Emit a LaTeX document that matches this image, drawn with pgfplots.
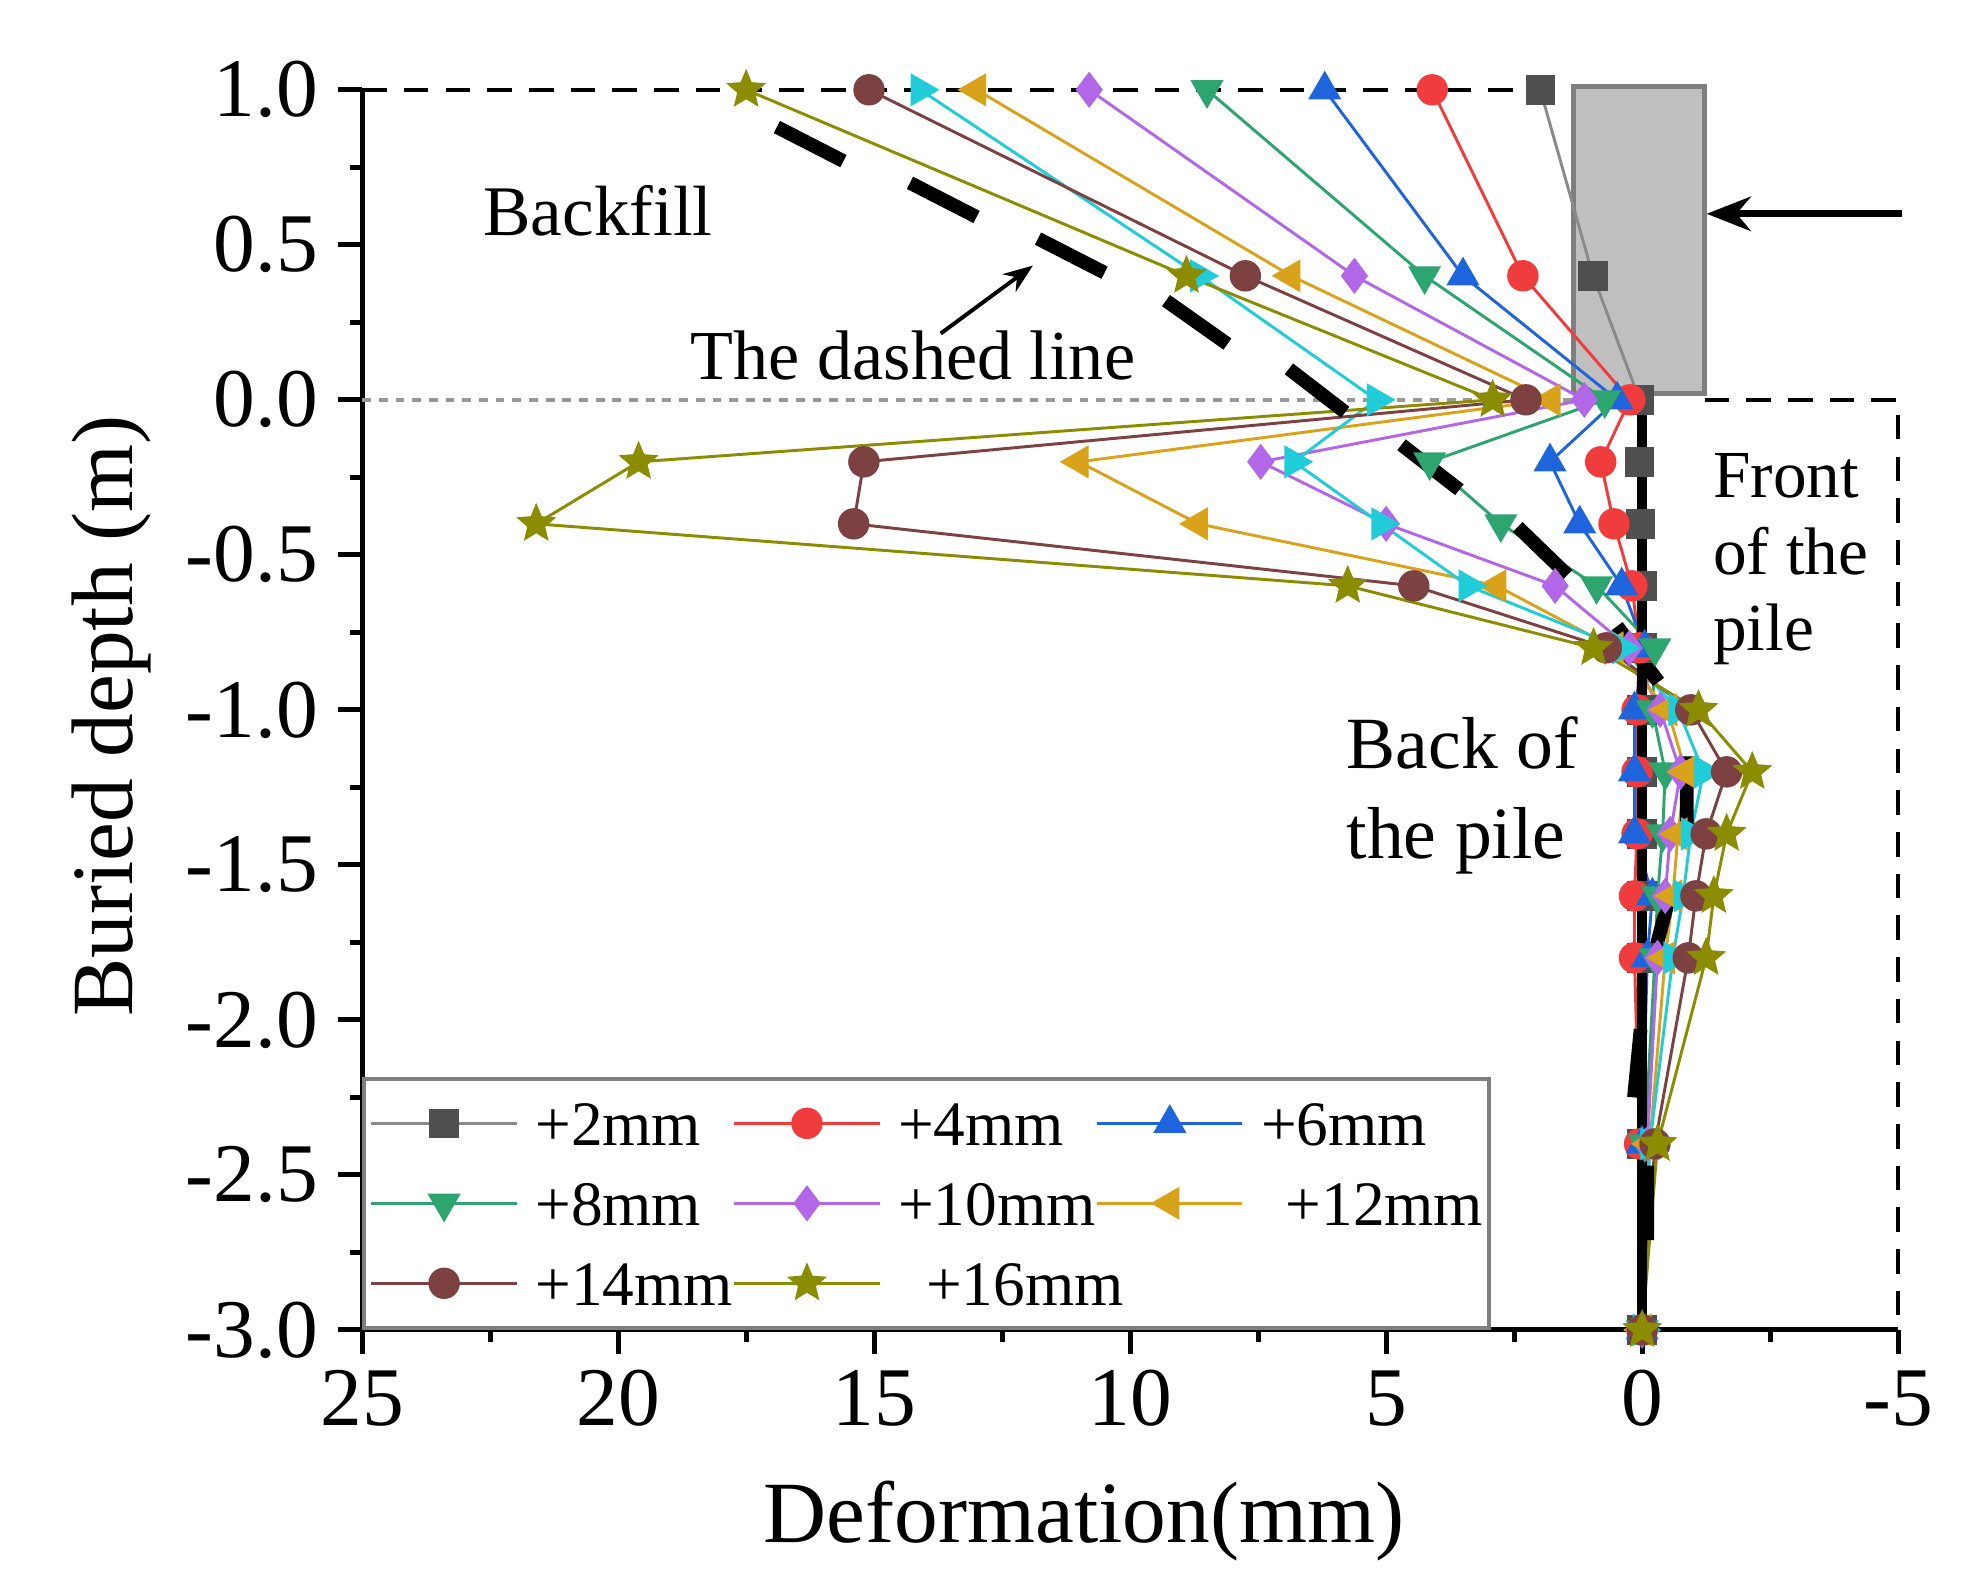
\documentclass[border=0pt]{standalone}
\usepackage{fontspec}
\setmainfont{Liberation Serif}
\usepackage{pgfplots}
\usepackage{pgfplotstable}
\pgfplotsset{compat=1.18}
\usetikzlibrary{arrows.meta}

\pgfdeclareplotmark{fstar}{%
  \pgfpathmoveto{\pgfpointpolar{90}{\pgfplotmarksize}}%
  \pgfpathlineto{\pgfpointpolar{126}{0.45\pgfplotmarksize}}%
  \pgfpathlineto{\pgfpointpolar{162}{\pgfplotmarksize}}%
  \pgfpathlineto{\pgfpointpolar{198}{0.45\pgfplotmarksize}}%
  \pgfpathlineto{\pgfpointpolar{234}{\pgfplotmarksize}}%
  \pgfpathlineto{\pgfpointpolar{270}{0.45\pgfplotmarksize}}%
  \pgfpathlineto{\pgfpointpolar{306}{\pgfplotmarksize}}%
  \pgfpathlineto{\pgfpointpolar{342}{0.45\pgfplotmarksize}}%
  \pgfpathlineto{\pgfpointpolar{18}{\pgfplotmarksize}}%
  \pgfpathlineto{\pgfpointpolar{54}{0.45\pgfplotmarksize}}%
  \pgfpathclose
  \pgfusepathqfillstroke
}

\definecolor{cgray}{HTML}{4F4F4F}
\definecolor{cgrayl}{HTML}{8A8A8A}
\definecolor{cred}{HTML}{F03C3C}
\definecolor{cblue}{HTML}{1E64DC}
\definecolor{cgreen}{HTML}{2CA56E}
\definecolor{cpurple}{HTML}{B266E8}
\definecolor{corange}{HTML}{D9A21B}
\definecolor{ccyan}{HTML}{20CCD8}
\definecolor{cbrown}{HTML}{7D4141}
\definecolor{colive}{HTML}{8C8C00}
\definecolor{rectfill}{HTML}{C0C0C0}
\definecolor{rectdraw}{HTML}{7F7F7F}

% depth (m) and deformation (mm) of each series
\pgfplotstableread{
y     s2    s4    s6    s8    s10   s12   sc    s14   s16
1.0   1.99  4.10  6.20  8.50  10.80 13.00 14.10 15.10 17.50
0.4   0.96  2.33  3.50  4.25  5.62  6.86  8.64  7.75  8.90
0.0   0.05  0.24  0.49  0.73  1.13  1.78  5.19  2.27  2.92
-0.2  0.05  0.81  1.80  4.15  7.45  11.00 6.80  15.20 19.60
-0.4  0.03  0.55  1.22  2.76  5.00  8.67  5.10  15.40 21.60
-0.6  0.00  0.20  0.40  0.89  1.70  2.84  3.40  4.46  5.75
-0.8  0.00  0.05  -0.05 -0.25 0.25  0.55  0.40  0.70  0.95
-1.0  0.00  0.10  0.15  -0.20 -0.35 -0.50 -0.70 -0.95 -1.10
-1.2  0.00  0.10  0.15  -0.45 -0.75 -0.85 -1.20 -1.65 -2.15
-1.4  0.00  0.10  0.15  -0.40 -0.55 -0.70 -0.95 -1.25 -1.65
-1.6  0.00  0.15  -0.20 -0.30 -0.45 -0.60 -0.80 -1.05 -1.40
-1.8  0.00  0.15  -0.10 -0.25 -0.30 -0.45 -0.60 -0.90 -1.25
-2.4  0.00  0.05  0.00  -0.05 -0.10 -0.15 -0.15 -0.25 -0.30
-3.0  0.00  0.00  0.00  0.00  0.00  0.00  0.00  0.00  0.00
}\data

\begin{document}
\begin{tikzpicture}
\path[use as bounding box] (-73.8pt,-50.3pt) rectangle (326.2pt,271pt);
\begin{axis}[
  at={(0,0)}, anchor=south west,
  scale only axis, width=313pt, height=252.7pt,
  x dir=reverse,
  xmin=-5, xmax=25, ymin=-3, ymax=1,
  clip=false,
  axis x line*=bottom, axis y line*=left,
  axis line style={line width=1pt, black},
  tick align=outside,
  major tick length=4.9pt, minor tick length=2.4pt,
  every tick/.style={black, line width=1pt},
  xtick={-5,0,5,10,15,20,25},
  ytick={-3,-2.5,-2,-1.5,-1,-0.5,0,0.5,1},
  minor x tick num=1, minor y tick num=1,
  /pgf/number format/assume math mode=true,
  ticklabel style={font=\fontsize{17}{20}\selectfont},
  xticklabel style={anchor=base, inner sep=0pt, yshift=-14.5pt, /pgf/number format/fixed},
  yticklabel style={anchor=east, inner sep=0pt, xshift=-3.9pt, /pgf/number format/.cd, fixed, fixed zerofill, precision=1},
  xlabel={Deformation(mm)},
  xlabel style={at={(axis description cs:0.470,-0.1717)}, anchor=base, inner sep=0pt, font=\fontsize{17.8}{20}\selectfont},
  ylabel={Buried depth (m)},
  ylabel style={at={(axis description cs:-0.1492,0.495)}, anchor=base, inner sep=0pt, font=\fontsize{17.8}{20}\selectfont},
  legend columns=3,
  legend cell align=left,
  legend image code/.code={\draw[mark repeat=2,mark phase=2] plot coordinates {(0pt,0pt) (14.8pt,0pt) (29.6pt,0pt)};},
  legend style={at={(0,0)}, anchor=south west, draw=rectdraw, line width=0.8pt,
    font=\fontsize{12.9}{15}\selectfont,
    inner xsep=1.2pt, inner ysep=4.5pt,
    nodes={inner xsep=0pt, inner ysep=0pt, text height=9.2pt, text depth=0pt},
    cells={anchor=west},
    column sep=0pt, row sep=7.1pt},
  every axis plot/.append style={line width=0.6pt},
]
% pile cap rectangle
\addplot[forget plot, fill=rectfill, draw=rectdraw, line width=1pt] coordinates {(1.34,0.02) (-1.22,0.02) (-1.22,1.01) (1.34,1.01) (1.34,0.02)};
% reference lines
\addplot[forget plot, black, line width=0.8pt, dash pattern=on 5pt off 3.5pt] coordinates {(25,1) (1.5,1)};
\addplot[forget plot, black, line width=0.8pt, dash pattern=on 5pt off 3.5pt] coordinates {(-1.22,0) (-5,0) (-5,-3)};
\addplot[forget plot, gray!80, line width=0.8pt, dash pattern=on 1.8pt off 1.6pt] coordinates {(25,0) (1.34,0)};

\addplot[cgrayl, mark=square*, mark size=2.7pt, mark options={fill=cgray, draw=cgray}] table[x=s2, y=y] {\data};
\addlegendentry{\hspace{3.5pt}+2mm\hspace{2.1pt}}
\addplot[cred, mark=*, mark size=2.9pt, mark options={fill=cred, draw=cred}] table[x=s4, y=y] {\data};
\addlegendentry{\hspace{3.5pt}+4mm\hspace{2.1pt}}
\addplot[cblue, mark=triangle*, mark size=3.3pt, mark options={fill=cblue, draw=cblue}] table[x=s6, y=y] {\data};
\addlegendentry{\hspace{3.5pt}+6mm\hspace{2.1pt}}
\addplot[cgreen, mark=triangle*, mark size=3.3pt, mark options={fill=cgreen, draw=cgreen, rotate=180}] table[x=s8, y=y] {\data};
\addlegendentry{\hspace{3.5pt}+8mm\hspace{2.1pt}}
\addplot[cpurple, mark=diamond*, mark size=3.2pt, mark options={fill=cpurple, draw=cpurple}] table[x=s10, y=y] {\data};
\addlegendentry{\hspace{3.5pt}+10mm\hspace{2.1pt}}
\addplot[corange, mark=triangle*, mark size=3.3pt, mark options={fill=corange, draw=corange, rotate=90}] table[x=s12, y=y] {\data};
\addlegendentry{\hspace{8.5pt}+12mm\hspace{2.1pt}}
\addplot[forget plot, ccyan, mark=triangle*, mark size=3.3pt, mark options={fill=ccyan, draw=ccyan, rotate=-90}] table[x=sc, y=y] {\data};
\addplot[cbrown, mark=*, mark size=2.9pt, mark options={fill=cbrown, draw=cbrown}] table[x=s14, y=y] {\data};
\addlegendentry{\hspace{3.5pt}+14mm\hspace{2.1pt}}
\addplot[colive, mark=fstar, mark size=3.5pt, mark options={fill=colive, draw=colive}] table[x=s16, y=y] {\data};
\addlegendentry{\hspace{9.2pt}\rlap{+16mm}}

% pile
\addplot[forget plot, black, line width=2pt] coordinates {(0,0.02) (0,-3)};
% thick dashed envelope line (each dash a segment)
\addplot[forget plot, black, line width=2.8pt, unbounded coords=jump] coordinates {
 (16.9,0.88) (15.6,0.77) (nan,nan)
 (14.3,0.70) (13.0,0.59) (nan,nan)
 (11.8,0.52) (10.5,0.41) (nan,nan)
 (9.3,0.32) (8.1,0.18) (nan,nan)
 (6.9,0.10) (5.8,-0.04) (nan,nan)
 (4.7,-0.145) (3.57,-0.29) (nan,nan)
 (2.43,-0.41) (1.46,-0.565) (nan,nan)
 (0.49,-0.73) (-0.32,-0.91) (nan,nan)
 (-0.87,-1.15) (-0.87,-1.37) (nan,nan)
 (-0.55,-1.59) (-0.22,-1.80) (nan,nan)
 (0.03,-2.03) (0.16,-2.25) (nan,nan)
 (-0.1,-2.47) (-0.1,-2.71)
};
% load arrow
\addplot[forget plot, black, line width=1.4pt, -{Stealth[length=9pt,width=7pt]}] coordinates {(-5.08,0.6) (-1.26,0.6)};
% annotation arrow
\addplot[forget plot, black, line width=0.8pt, -{Stealth[length=6pt,width=4.5pt]}] coordinates {(13.7,0.214) (11.9,0.433)};

\node[anchor=base west, inner sep=0pt, font=\fontsize{14.5}{17}\selectfont] at (axis cs:22.65,0.53) {Backfill};
\node[anchor=base west, inner sep=0pt, font=\fontsize{14.3}{17}\selectfont] at (axis cs:18.6,0.064) {The dashed line};
\node[anchor=base west, inner sep=0pt, font=\fontsize{15}{18}\selectfont] at (axis cs:5.79,-1.19) {Back of};
\node[anchor=base west, inner sep=0pt, font=\fontsize{15}{18}\selectfont] at (axis cs:5.79,-1.48) {the pile};
\node[anchor=base west, inner sep=0pt, font=\fontsize{13.7}{16}\selectfont] at (axis cs:-1.37,-0.315) {Front};
\node[anchor=base west, inner sep=0pt, font=\fontsize{13.7}{16}\selectfont] at (axis cs:-1.37,-0.564) {of the};
\node[anchor=base west, inner sep=0pt, font=\fontsize{13.7}{16}\selectfont] at (axis cs:-1.37,-0.81) {pile};
\end{axis}
\end{tikzpicture}
\end{document}
